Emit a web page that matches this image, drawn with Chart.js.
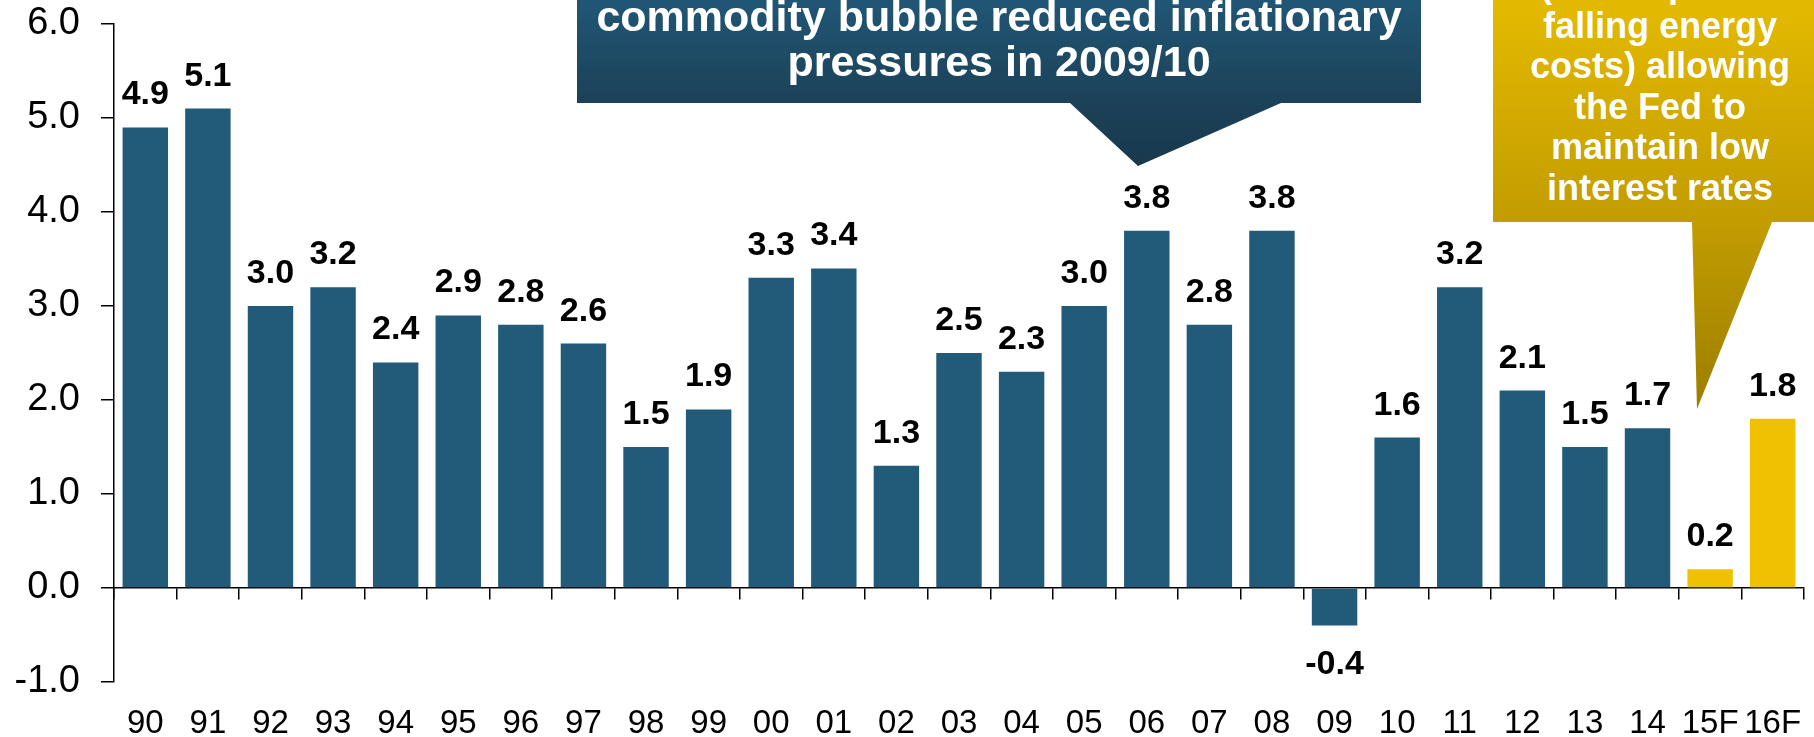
<!DOCTYPE html>
<html>
<head>
<meta charset="utf-8">
<script src="https://cdn.jsdelivr.net/npm/chart.js@4.4.1/dist/chart.umd.min.js"></script>
<style>
    html, body { margin: 0; padding: 0; background: #fff; }
    #wrap { width: 1814px; height: 737px; position: relative; }
</style>
</head>
<body>
<div id="wrap"><canvas id="cpiChart"></canvas></div>
<script>
// ── Datos ─────────────
const years = ['90', '91', '92', '93', '94', '95', '96', '97', '98', '99',
               '00', '01', '02', '03', '04', '05', '06', '07', '08', '09',
               '10', '11', '12', '13', '14', '15F', '16F'];
const cpi = [4.9, 5.1, 3.0, 3.2, 2.4, 2.9, 2.8, 2.6, 1.5, 1.9,
             3.3, 3.4, 1.3, 2.5, 2.3, 3.0, 3.8, 2.8, 3.8, -0.4,
             1.6, 3.2, 2.1, 1.5, 1.7, 0.2, 1.8];
const yTicks = [-1, 0, 1, 2, 3, 4, 5, 6];
const blueNote = ['commodity bubble reduced inflationary', 'pressures in 2009/10'];
const goldNote = ['(due in part to', 'falling energy', 'costs) allowing', 'the Fed to', 'maintain low', 'interest rates'];

const FONT = '"Liberation Sans", Arial, sans-serif';
const barColors = years.map(y => y.endsWith('F') ? '#efc100' : '#225b7a');

// ── Etiquetas de valor ─────────────
const barLabels = {
    id: 'barLabels',
    afterDatasetsDraw(chart) {
        const ctx = chart.ctx;
        const meta = chart.getDatasetMeta(0);
        ctx.save();
        ctx.font = 'bold 34px ' + FONT;
        ctx.fillStyle = '#000';
        ctx.textAlign = 'center';
        ctx.textBaseline = 'alphabetic';
        meta.data.forEach((bar, i) => {
            const v = cpi[i];
            const y = v >= 0 ? bar.y - 23 : bar.y + 48;
            ctx.fillText(v.toFixed(1), bar.x, y);
        });
        ctx.restore();
    }
};

// ── Globos de texto ─────────────
function callout(ctx, box, tip, stops, lines, font, cx, base0, step) {
    const g = ctx.createLinearGradient(0, 0, 0, tip[2][1]);
    stops.forEach(s => g.addColorStop(s[0], s[1]));
    ctx.fillStyle = g;
    ctx.beginPath();
    ctx.moveTo(box[0], box[1]);
    ctx.lineTo(box[2], box[1]);
    ctx.lineTo(box[2], box[3]);
    ctx.lineTo(tip[1][0], tip[1][1]);
    ctx.lineTo(tip[2][0], tip[2][1]);
    ctx.lineTo(tip[0][0], tip[0][1]);
    ctx.lineTo(box[0], box[3]);
    ctx.closePath();
    ctx.fill();
    ctx.font = font;
    ctx.fillStyle = '#fff';
    ctx.textAlign = 'center';
    ctx.textBaseline = 'alphabetic';
    lines.forEach((t, i) => ctx.fillText(t, cx, base0 + i * step));
}

const notes = {
    id: 'notes',
    afterDraw(chart) {
        const ctx = chart.ctx;
        ctx.save();
        callout(ctx, [577, -60, 1421, 103], [[1070, 103], [1281, 103], [1138, 166]],
            [[0, '#205675'], [0.6, '#1c4259'], [1, '#18384d']],
            blueNote, 'bold 43px ' + FONT, 999, 31, 45);
        callout(ctx, [1493, -60, 1830, 222], [[1692, 222], [1772, 222], [1697, 409]],
            [[0, '#e4ba00'], [0.55, '#c29c00'], [1, '#9c7e00']],
            goldNote, 'bold 36px ' + FONT, 1660, -3, 40.6);
        ctx.restore();
    }
};

new Chart(document.getElementById('cpiChart'), {
    type: 'bar',
    data: {
        labels: years,
        datasets: [{
            data: cpi,
            backgroundColor: barColors,
            barPercentage: 0.726,
            categoryPercentage: 1
        }]
    },
    options: {
        responsive: true,
        maintainAspectRatio: false,
        animation: false,
        layout: { padding: { top: 24, right: 10, left: 0, bottom: 0 } },
        plugins: { legend: { display: false }, tooltip: { enabled: false } },
        scales: {
            x: {
                grid: { display: false, drawTicks: false },
                border: { display: false },
                ticks: { color: '#000', font: { family: FONT, size: 33 }, padding: 22, maxRotation: 0, autoSkip: false },
                afterFit: s => { s.height = 55; s.paddingLeft = 0; s.paddingRight = 0; }
            },
            x2: {
                type: 'category',
                position: { y: 0 },
                offset: true,
                grid: { offset: true, drawOnChartArea: false, tickLength: 11, color: '#000', lineWidth: 1.5 },
                border: { display: true, color: '#000', width: 1.5 },
                ticks: { display: false }
            },
            y: {
                min: -1,
                max: 6,
                afterBuildTicks: s => { s.ticks = yTicks.map(v => ({ value: v })); },
                ticks: {
                    color: '#000',
                    font: { family: FONT, size: 38 },
                    padding: 21,
                    callback: v => v.toFixed(1)
                },
                grid: { drawOnChartArea: false, tickLength: 13, color: '#000', lineWidth: 1.5 },
                border: { display: true, color: '#000', width: 1.5 },
                afterFit: s => { s.width = 114; s.paddingTop = 0; s.paddingBottom = 0; }
            }
        }
    },
    plugins: [barLabels, notes]
});
</script>
</body>
</html>
